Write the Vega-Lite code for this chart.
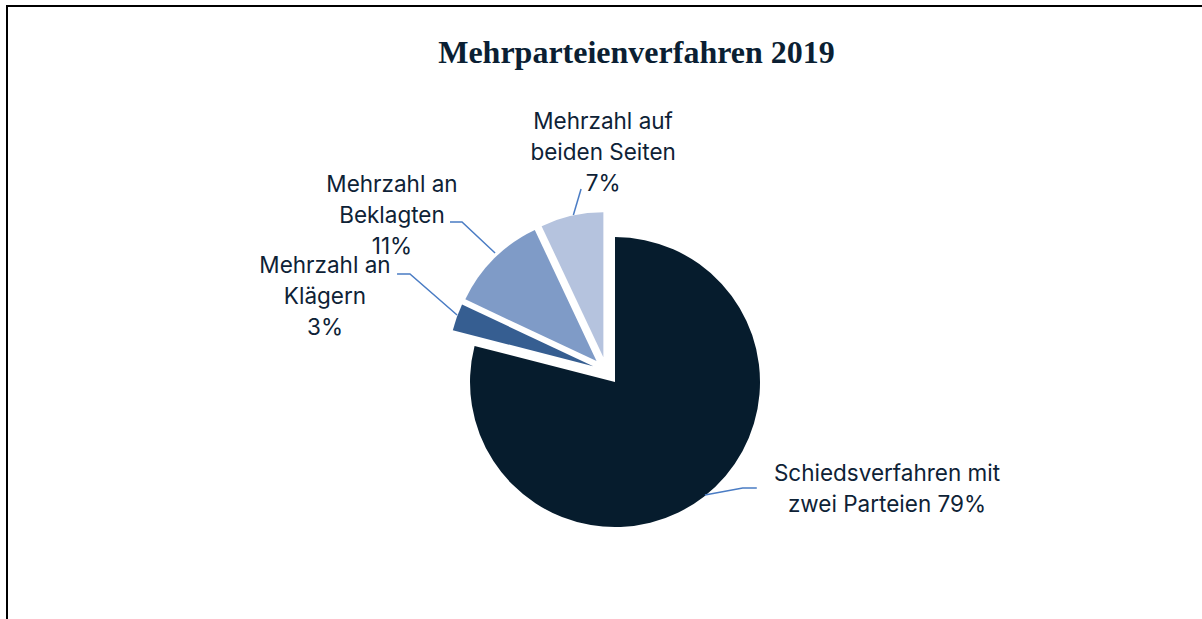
{
  "$schema": "https://vega.github.io/schema/vega-lite/v6.json",
  "autosize": "none",
  "width": 1199,
  "height": 730,
  "padding": {"left": 7, "top": 6, "right": 0, "bottom": 0},
  "background": "#ffffff",
  "config": {"view": {"stroke": "#000000", "strokeWidth": 2}},
  "title": {
    "text": "Mehrparteienverfahren 2019",
    "font": "Liberation Serif",
    "fontSize": 32,
    "fontWeight": "bold",
    "color": "#0b1f33",
    "anchor": "middle",
    "baseline": "alphabetic",
    "offset": -89,
    "dx": 30
  },
  "datasets": {
    "anteile": [
      {"kategorie": "Schiedsverfahren mit zwei Parteien", "anteil": 79, "nr": 1},
      {"kategorie": "Mehrzahl an Klägern", "anteil": 3, "nr": 2},
      {"kategorie": "Mehrzahl an Beklagten", "anteil": 11, "nr": 3},
      {"kategorie": "Mehrzahl auf beiden Seiten", "anteil": 7, "nr": 4}
    ],
    "linien": [
      {"id": "7", "i": 0, "x": -0.228, "y": 1.076},
      {"id": "7", "i": 1, "x": -0.175, "y": 1.255},
      {"id": "11", "i": 0, "x": -0.768, "y": 0.814},
      {"id": "11", "i": 1, "x": -0.996, "y": 1.028},
      {"id": "11", "i": 2, "x": -1.079, "y": 1.028},
      {"id": "3", "i": 0, "x": -1.030, "y": 0.386},
      {"id": "3", "i": 1, "x": -1.355, "y": 0.669},
      {"id": "3", "i": 2, "x": -1.444, "y": 0.669},
      {"id": "79", "i": 0, "x": 0.679, "y": -0.855},
      {"id": "79", "i": 1, "x": 0.940, "y": -0.807},
      {"id": "79", "i": 2, "x": 1.037, "y": -0.807}
    ],
    "beschriftungen": [
      {"text": "Mehrzahl auf\nbeiden Seiten\n7%", "x": -0.023, "y": 1.717},
      {"text": "Mehrzahl an\nBeklagten\n11%", "x": -1.479, "y": 1.283},
      {"text": "Mehrzahl an\nKlägern\n3%", "x": -1.941, "y": 0.724},
      {"text": "Schiedsverfahren mit\nzwei Parteien 79%", "x": 1.935, "y": -0.710}
    ]
  },
  "layer": [
    {
      "data": {"name": "anteile"},
      "transform": [
        {"window": [{"op": "sum", "field": "anteil", "as": "ende"}], "sort": [{"field": "nr"}], "frame": [null, 0]},
        {"calculate": "datum.ende - datum.anteil", "as": "beginn"},
        {"calculate": "PI * (datum.beginn + datum.ende) / 100", "as": "mitte"},
        {"calculate": "0.0966 * sin(datum.mitte)", "as": "mx"},
        {"calculate": "0.0966 * cos(datum.mitte)", "as": "my"}
      ],
      "mark": {"type": "arc", "radius": 145},
      "encoding": {
        "theta": {"field": "beginn", "type": "quantitative", "stack": null, "scale": {"domain": [0, 100]}},
        "theta2": {"field": "ende"},
        "x": {"field": "mx", "type": "quantitative", "axis": null, "scale": {"domain": [-4.134, 4.135], "nice": false, "zero": false}},
        "y": {"field": "my", "type": "quantitative", "axis": null, "scale": {"domain": [-2.517, 2.517], "nice": false, "zero": false}},
        "color": {
          "field": "kategorie",
          "type": "nominal",
          "legend": null,
          "scale": {
            "domain": ["Schiedsverfahren mit zwei Parteien", "Mehrzahl an Klägern", "Mehrzahl an Beklagten", "Mehrzahl auf beiden Seiten"],
            "range": ["#061c2d", "#365e91", "#7f9bc7", "#b5c3de"]
          }
        }
      }
    },
    {
      "data": {"name": "linien"},
      "mark": {"type": "line", "color": "#4a7cc4", "strokeWidth": 1.5},
      "encoding": {
        "x": {"field": "x", "type": "quantitative", "axis": null, "scale": {"domain": [-4.134, 4.135], "nice": false, "zero": false}},
        "y": {"field": "y", "type": "quantitative", "axis": null, "scale": {"domain": [-2.517, 2.517], "nice": false, "zero": false}},
        "detail": {"field": "id", "type": "nominal"},
        "order": {"field": "i", "type": "quantitative"}
      }
    },
    {
      "data": {"name": "beschriftungen"},
      "mark": {"type": "text", "align": "center", "baseline": "middle", "lineBreak": "\n", "lineHeight": 31, "font": "Inter", "fontSize": 22.5, "color": "#0e2236"},
      "encoding": {
        "x": {"field": "x", "type": "quantitative", "axis": null, "scale": {"domain": [-4.134, 4.135], "nice": false, "zero": false}},
        "y": {"field": "y", "type": "quantitative", "axis": null, "scale": {"domain": [-2.517, 2.517], "nice": false, "zero": false}},
        "text": {"field": "text", "type": "nominal"}
      }
    }
  ]
}
